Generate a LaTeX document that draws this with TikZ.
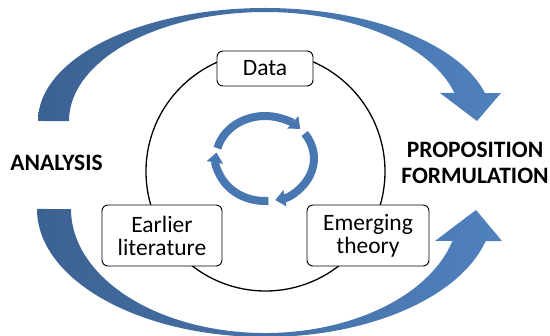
\documentclass[tikz,border=0pt]{standalone}
\usepackage{fontspec}
\setmainfont{Carlito}
\usetikzlibrary{arrows.meta,positioning}
\definecolor{arrowdark}{RGB}{60,98,146}
\definecolor{arrowlight}{RGB}{79,129,189}
\definecolor{cycleblue}{RGB}{72,119,178}

\begin{document}
\begin{tikzpicture}[x=1pt, y=-1pt,
    box/.style={draw, fill=white, rounded corners=6pt, line width=0.9pt, align=center, inner sep=2pt, font=\fontsize{23.5}{23}\selectfont},
    phase/.style={font=\fontsize{23.5}{26}\selectfont\bfseries, align=center},
    bigarrow/.style={left color=arrowdark, right color=arrowlight},
    cyclearrow/.style={draw=cycleblue, line width=8pt, -{Triangle[width=16pt,length=10pt]}}]
\useasboundingbox (0,0) rectangle (550,336);
\clip (0,0) rectangle (550,336);

% inner loop
\draw[line width=1.3pt] (265.5,171.5) circle[radius=119.5];
\node[box, minimum width=96pt, minimum height=35pt] (data) at (265,68.5) {Data};
\node[box, minimum width=120pt, minimum height=61pt] (earlier) at (162,235.5) {Earlier\\literature};
\node[box, minimum width=122pt, minimum height=61pt] (emerging) at (368,235.5) {Emerging\\theory};

\foreach \s/\e in {-166/-44, -36/78, 86/188}
    \draw[cyclearrow] (265,158.5) ++(\s:49 and 42.5) arc[start angle=\s, end angle=\e, x radius=49, y radius=42.5];

% outer loop
\shade[bigarrow] (38,121) arc[start angle=180, end angle=345.7, x radius=227, y radius=113]
    -- (501,93) -- (477,121) -- (440,93) -- (454.4,93)
    arc[start angle=345.1, end angle=180, x radius=196, y radius=109] -- cycle;
\shade[bigarrow] (37,209) arc[start angle=180, end angle=14.5, x radius=228, y radius=128]
    -- (502,241) -- (476,210) -- (435,241) -- (452.4,241)
    arc[start angle=14.95, end angle=180, x radius=194, y radius=124] -- cycle;

\node[phase] (analysis) at (56.5,163) {ANALYSIS};
\node[phase] (proposition) at (475,163) {PROPOSITION\\FORMULATION};

\end{tikzpicture}
\end{document}
